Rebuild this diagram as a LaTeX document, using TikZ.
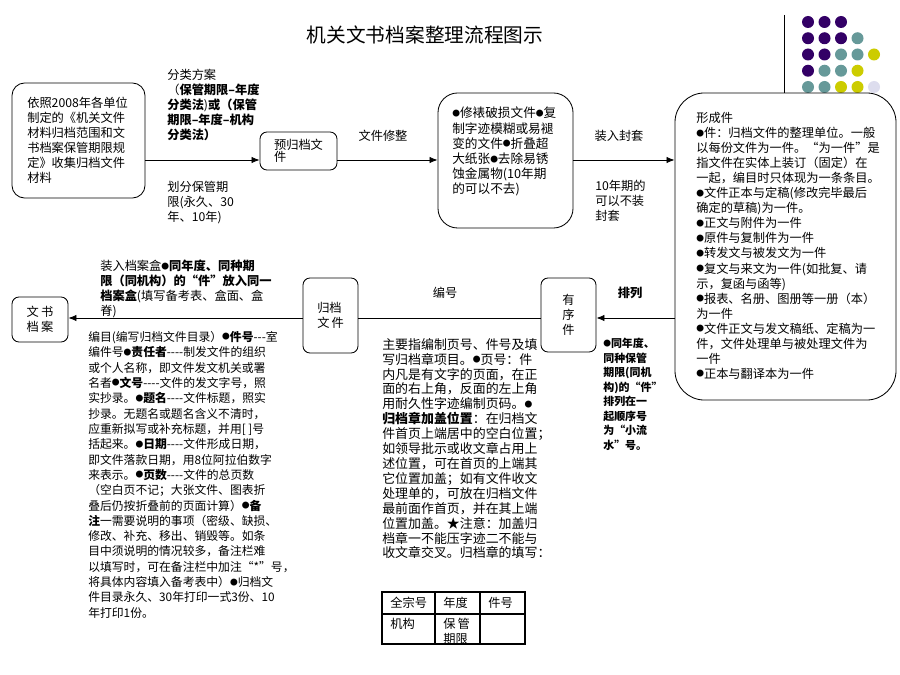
\documentclass[tikz,border=0pt]{standalone}
\usepackage{fontspec}
\setmainfont{Noto Sans CJK SC}
\usepackage{xcolor}
\usetikzlibrary{arrows.meta,positioning}
\definecolor{dotpurple}{RGB}{51,0,102}
\definecolor{dotteal}{RGB}{102,153,153}
\definecolor{dotyellow}{RGB}{204,204,0}
\definecolor{dotlilac}{RGB}{221,221,238}
\newcommand{\bul}{\raisebox{0.12em}{\fontsize{5.5}{5.5}\selectfont●}}
\newcommand{\dsh}[1]{\foreach \k in {1,...,#1}{-}}

\begin{document}
\begin{tikzpicture}[x=0.025cm,y=-0.025cm,
      font=\fontsize{8.7}{10.7}\selectfont,
      rbox/.style={draw=black,line width=0.6pt,rounded corners=#1,inner sep=0pt,align=left},
      rbox/.default=5pt,
      txt/.style={anchor=north west,inner sep=0pt,align=left},
      lbl/.style={inner sep=0pt},
      flow/.style={line width=0.6pt,-{Latex[length=2mm,width=1.6mm]}},
      plain/.style={line width=0.6pt}]
    \useasboundingbox (0,0) rectangle (900,675);
    % title and corner dots
    \node[lbl,font=\fontsize{14}{16}\selectfont] (title) at (425,35) {机关文书档案整理流程图示};
    \coordinate (deco) at (784,15);
    \foreach \row [count=\j from 0] in {{dotpurple,dotpurple,dotpurple},
        {dotpurple,dotpurple,dotpurple,dotteal},
        {dotpurple,dotpurple,dotteal,dotteal,dotyellow},
        {dotpurple,dotteal,dotteal,dotyellow},
        {dotteal,dotteal,dotyellow,dotyellow,dotlilac}}
      \foreach \clr [count=\i from 0] in \row
        \fill[\clr] (808+16.5*\i,22+16.25*\j) circle (6);
    % upper row
    \coordinate (row1) at (0,160);
    \node[rbox=9pt,minimum width=3.325cm,minimum height=2.875cm] (src) at (78.5,140.5) {};
    \node[txt] (srctxt) at (27,97) {依照2008年各单位\\制定的《机关文件\\材料归档范围和文\\书档案保管期限规\\定》收集归档文件\\材料};
    \node[rbox,minimum width=1.925cm,minimum height=0.95cm,font=\fontsize{8.7}{8.5}\selectfont] (pre) at (298.5,151) {预归档文\\件};
    \node[rbox=14pt,minimum width=3.375cm,minimum height=3.375cm] (trim) at (505.5,160.5) {};
    \node[txt,font=\fontsize{9}{10.8}\selectfont] (trimtxt) at (452,107) {\bul 修裱破损文件\bul 复\\制字迹模糊或易褪\\变的文件\bul 折叠超\\大纸张\bul 去除易锈\\蚀金属物(10年期\\的可以不去)};
    \node[rbox=21pt,minimum width=5.525cm,minimum height=7.675cm] (unit) at (785.5,246.5) {};
    \node[txt] (unittxt) at (696,112) {形成件\\\bul 件：归档文件的整理单位。一般\\以每份文件为一件。“为一件”是\\指文件在实体上装订（固定）在\\一起，编目时只体现为一条条目。\\\bul 文件正本与定稿(修改完毕最后\\确定的草稿)为一件。\\\bul 正文与附件为一件\\\bul 原件与复制件为一件\\\bul 转发文与被发文为一件\\\bul 复文与来文为一件(如批复、请\\示，复函与函等)\\\bul 报表、名册、图册等一册（本）\\为一件\\\bul 文件正文与发文稿纸、定稿为一\\件，文件处理单与被处理文件为\\一件\\\bul 正本与翻译本为一件};
    \draw[flow] (src.east |- row1) -- (pre.west |- row1);
    \draw[flow] (pre.east |- row1) -- (trim.west |- row1);
    \draw[flow] (trim.east |- row1) -- (unit.west |- row1);
    \draw[plain] (deco) -- (deco |- unit.north);
    \node[txt] (scheme) at (167,69) {分类方案\\（\textbf{保管期限–年度}\\\textbf{分类法})\textbf{或（保管}\\\textbf{期限–年度–机构}\\\textbf{分类法）}};
    \node[txt] (term) at (167,181) {划分保管期\\限(永久、30\\年、10年)};
    \node[lbl] (trimlbl) at (383,136) {文件修整};
    \node[lbl] (sleeve) at (619,136) {装入封套};
    \node[txt] (nosleeve) at (595,180) {10年期的\\可以不装\\封套};
    % lower row
    \coordinate (row2) at (0,318);
    \node[rbox,minimum width=1.375cm,minimum height=1.85cm] (ordered) at (568.5,315) {有\\序\\件};
    \node[rbox,minimum width=1.375cm,minimum height=1.875cm] (filed) at (330.5,315.5) {归档\\文\,件};
    \node[rbox,minimum width=1.4cm,minimum height=1.125cm] (dossier) at (40,319.5) {文\,书\\档\,案};
    \draw[flow] (unit.west |- row2) -- (ordered.east |- row2);
    \draw[plain] (ordered.west |- row2) -- (filed.east |- row2);
    \draw[flow] (filed.west |- row2) -- (dossier.east |- row2);
    \node[lbl,font=\fontsize{8.7}{10.7}\selectfont\bfseries] (sortlbl) at (630,293) {排列};
    \node[lbl] (numlbl) at (445,293) {编号};
    \node[txt,font=\fontsize{7.8}{10.3}\selectfont\bfseries] (sorttxt) at (603,338) {\bul 同年度、\\同种保管\\期限(同机\\构)的“件”\\排列在一\\起顺序号\\为“小流\\水”号。};
    \node[txt,font=\fontsize{9.2}{10.6}\selectfont] (numtxt) at (382,338) {主要指编制页号、件号及填\\写归档章项目。\bul 页号：件\\内凡是有文字的页面，在正\\面的右上角，反面的左上角\\用耐久性字迹编制页码。\bul\\\textbf{归档章加盖位置}：在归档文\\件首页上端居中的空白位置；\\如领导批示或收文章占用上\\述位置，可在首页的上端其\\它位置加盖；如有文件收文\\处理单的，可放在归档文件\\最前面作首页，并在其上端\\位置加盖。★注意：加盖归\\档章一不能压字迹二不能与\\收文章交叉。归档章的填写：};
    \node[txt] (boxing) at (100,260) {装入档案盒\textbf{\bul 同年度、同种期}\\\textbf{限（同机构）的“件”放入同一}\\\textbf{档案盒}(填写备考表、盒面、盒\\脊)};
    \node[txt,font=\fontsize{8.4}{10.9}\selectfont] (catalog) at (88,331) {编目(编写归档文件目录）\bul\textbf{件号}\dsh{3}室\\编件号\bul\textbf{责任者}\dsh{4}制发文件的组织\\或个人名称，即文件发文机关或署\\名者\bul\textbf{文号}\dsh{4}文件的发文字号，照\\实抄录。\bul\textbf{题名}\dsh{4}文件标题，照实\\抄录。无题名或题名含义不清时，\\应重新拟写或补充标题，并用[ ]号\\括起来。\bul\textbf{日期}\dsh{4}文件形成日期，\\即文件落款日期，用8位阿拉伯数字\\来表示。\bul\textbf{页数}\dsh{4}文件的总页数\\（空白页不记；大张文件、图表折\\叠后仍按折叠前的页面计算）\bul\textbf{备}\\\textbf{注}一需要说明的事项（密级、缺损、\\修改、补充、移出、销毁等。如条\\目中须说明的情况较多，备注栏难\\以填写时，可在备注栏中加注“*”号，\\将具体内容填入备考表中）\bul 归档文\\件目录永久、30年打印一式3份、10\\年打印1份。};
    % stamp table
    \draw[line width=0.9pt] (382,592) rectangle (525,644);
    \draw[line width=0.9pt] (382,614) -- (525,614) (435,592) -- (435,644) (480,592) -- (480,644);
    \node[lbl,anchor=west] (c11) at (390,603) {全宗号};
    \node[lbl,anchor=west] (c12) at (443,603) {年度};
    \node[lbl,anchor=west] (c13) at (488,603) {件号};
    \node[lbl,anchor=west] (c21) at (390,624) {机构};
    \node[txt] (c22) at (443,618) {保\,管\\期限};
  \end{tikzpicture}
\end{document}
